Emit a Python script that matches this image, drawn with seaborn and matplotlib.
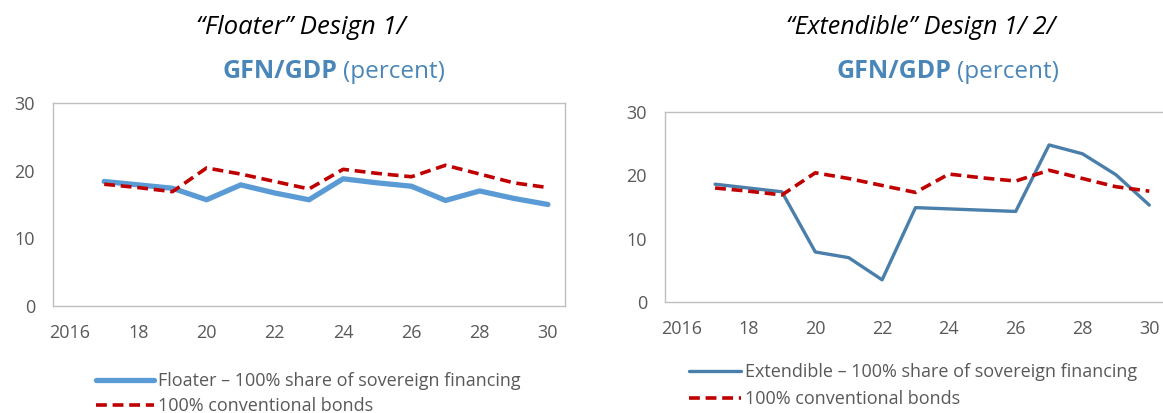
import pandas as pd
import matplotlib.pyplot as plt
import seaborn as sns

# GFN/GDP (percent), 2017-2030
years = list(range(2016, 2031))
tick_labels = ["2016", "18", "20", "22", "24", "26", "28", "30"]
floater = [18.4, 17.9, 17.4, 15.7, 17.9, 16.7, 15.7, 18.8, 18.2, 17.7, 15.6, 17.0, 15.9, 15.0]
extendible = [18.6, 18.0, 17.4, 7.9, 7.0, 3.5, 14.9, 14.7, 14.5, 14.3, 24.8, 23.4, 20.1, 15.3]
conventional = [18.0, 17.5, 16.9, 20.4, 19.5, 18.4, 17.3, 20.2, 19.6, 19.1, 20.8, 19.5, 18.2, 17.5]

sns.set_style("white")
plt.rcParams['font.family'] = ['Open Sans', 'DejaVu Sans']

GRAY = "#595959"
SPINE = "#BFBFBF"
TITLE_BLUE = "#4A86B8"
DASH = (0, (3.0, 1.6))

fig = plt.figure(figsize=(11.63, 4.13), dpi=100)
W, H = 1163, 413

def px_axes(x0, x1, y0, y1):
    return fig.add_axes([x0 / W, 1 - y1 / H, (x1 - x0) / W, (y1 - y0) / H])

ax1 = px_axes(53, 565, 103, 306)
ax2 = px_axes(665, 1166, 112, 302)

df = pd.DataFrame({
    "pos": list(range(1, 15)),
    "floater": floater,
    "extendible": extendible,
    "conventional": conventional,
})

sns.lineplot(data=df, x="pos", y="floater", ax=ax1, color="#5B9BD5", lw=3.8,
             label="Floater \u2013 100% share of sovereign financing")
sns.lineplot(data=df, x="pos", y="conventional", ax=ax1, color="#C00000", lw=2.6,
             label="100% conventional bonds")
ax1.lines[1].set_linestyle(DASH)

sns.lineplot(data=df, x="pos", y="extendible", ax=ax2, color="#4A7EAB", lw=2.4,
             label="Extendible \u2013 100% share of sovereign financing")
sns.lineplot(data=df, x="pos", y="conventional", ax=ax2, color="#C00000", lw=2.6,
             label="100% conventional bonds")
ax2.lines[1].set_linestyle(DASH)

for ax in (ax1, ax2):
    ax.set_xlim(-0.5, 14.5)
    ax.set_ylim(0, 30)
    ax.set_xticks(range(0, 15, 2))
    ax.set_xticklabels(tick_labels)
    ax.set_xticks([i + 0.5 for i in range(14)], minor=True)
    ax.tick_params(axis="x", which="major", length=0, pad=13, labelsize=13, labelcolor=GRAY)
    ax.tick_params(axis="x", which="minor", direction="in", length=5, color=SPINE, width=1)
    ax.set_yticks([0, 10, 20, 30])
    ax.tick_params(axis="y", direction="in", length=5, color=SPINE, width=1,
                   pad=13, labelsize=13, labelcolor=GRAY)
    ax.set_xlabel("")
    ax.set_ylabel("")
    for s in ax.spines.values():
        s.set_color(SPINE)
        s.set_linewidth(1)
        s.set_visible(True)
    ax.get_legend().remove()

ax1.legend(handles=ax1.lines[:2], loc="upper left", bbox_to_anchor=(96 / W, 1 - 372 / H),
           bbox_transform=fig.transFigure, frameon=False, fontsize=13, labelcolor=GRAY,
           handlelength=3.2, handletextpad=0.25, borderpad=0, borderaxespad=0, labelspacing=0.4)
ax2.legend(handles=ax2.lines[:2], loc="upper left", bbox_to_anchor=(689 / W, 1 - 363 / H),
           bbox_transform=fig.transFigure, frameon=False, fontsize=13, labelcolor=GRAY,
           handlelength=2.9, handletextpad=0.2, borderpad=0, borderaxespad=0, labelspacing=0.5)

# titles
fig.text(301 / W, 1 - 28 / H, "\u201cFloater\u201d Design 1/", ha="center", va="center",
         fontsize=18.5, style="italic", color="black")
fig.text(921 / W, 1 - 28 / H, "\u201cExtendible\u201d Design 1/ 2/", ha="center", va="center",
         fontsize=18, style="italic", color="black")

renderer = fig.canvas.get_renderer()
for x0 in (222, 836):
    t = fig.text(x0 / W, 1 - 72 / H, "GFN/GDP", ha="left", va="center", fontsize=18,
                 fontweight="bold", color=TITLE_BLUE)
    x_end = t.get_window_extent(renderer).x1
    fig.text((x_end + 6) / W, 1 - 72 / H, "(percent)", ha="left", va="center",
             fontsize=17.5, color=TITLE_BLUE)

fig.savefig("out.png", dpi=100)
